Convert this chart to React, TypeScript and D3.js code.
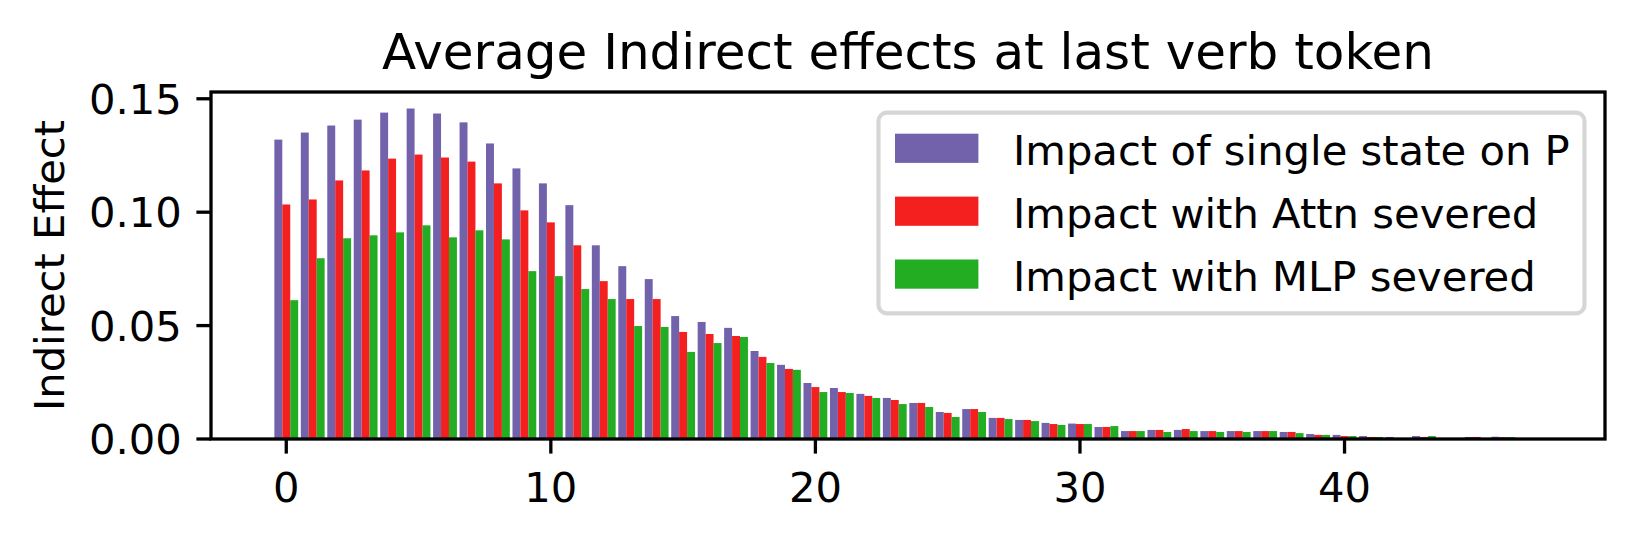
import React from "react";
import * as d3 from "d3";

const W = 1635;
const H = 540;
const FONT = "DejaVu Sans, Verdana, sans-serif";

// bar values, one per token position 0..47
const singleState = [
  0.1320, 0.1351, 0.1382, 0.1408, 0.1439, 0.1457, 0.1435, 0.1396, 0.1303, 0.1193,
  0.1127, 0.1031, 0.0854, 0.0762, 0.0705, 0.0542, 0.0516, 0.0490, 0.0388, 0.0327,
  0.0247, 0.0225, 0.0199, 0.0181, 0.0159, 0.0119, 0.0132, 0.0093, 0.0084, 0.0071,
  0.0068, 0.0053, 0.0035, 0.0040, 0.0040, 0.0035, 0.0035, 0.0035, 0.0031, 0.0022,
  0.0018, 0.0013, 0.0009, 0.0013, 0.0002, 0.0009, 0.0010, 0.0002,
];
const attnSevered = [
  0.1034, 0.1056, 0.1140, 0.1184, 0.1236, 0.1254, 0.1241, 0.1223, 0.1127, 0.1008,
  0.0955, 0.0854, 0.0696, 0.0617, 0.0617, 0.0472, 0.0463, 0.0454, 0.0362, 0.0309,
  0.0229, 0.0207, 0.0190, 0.0172, 0.0159, 0.0115, 0.0132, 0.0093, 0.0084, 0.0066,
  0.0066, 0.0053, 0.0035, 0.0040, 0.0044, 0.0035, 0.0035, 0.0035, 0.0031, 0.0018,
  0.0013, 0.0009, 0.0003, 0.0009, 0.0002, 0.0009, 0.0008, 0.0002,
];
const mlpSevered = [
  0.0612, 0.0797, 0.0885, 0.0898, 0.0911, 0.0942, 0.0889, 0.0920, 0.0880, 0.0740,
  0.0718, 0.0661, 0.0617, 0.0498, 0.0494, 0.0384, 0.0423, 0.0450, 0.0335, 0.0305,
  0.0207, 0.0203, 0.0181, 0.0154, 0.0141, 0.0097, 0.0119, 0.0088, 0.0079, 0.0062,
  0.0066, 0.0057, 0.0035, 0.0031, 0.0035, 0.0031, 0.0031, 0.0035, 0.0026, 0.0018,
  0.0013, 0.0009, 0.0003, 0.0013, 0.0002, 0.0004, 0.0008, 0.0001,
];

const seriesNames = [
  "Impact of single state on P",
  "Impact with Attn severed",
  "Impact with MLP severed",
];
const seriesColors = ["#7262ac", "#f42020", "#22ad22"];
const xTicks = [0, 10, 20, 30, 40];
const yTicks = [0, 0.05, 0.1, 0.15];

const plot = { left: 211, right: 1605, top: 92, bottom: 439 };
const BAR_W = 0.3;

export default function App() {
  const series = [singleState, attnSevered, mlpSevered];
  const n = singleState.length;

  // matplotlib style 5% margins around the bar extent
  const lo = -1.5 * BAR_W;
  const hi = n - 1 + 1.5 * BAR_W;
  const pad = (hi - lo) * 0.05;
  const x = d3.scaleLinear().domain([lo - pad, hi + pad]).range([plot.left, plot.right]);
  const yMax = (d3.max(series.flat()) ?? 0) * 1.05;
  const y = d3.scaleLinear().domain([0, yMax]).range([plot.bottom, plot.top]);
  const bw = x(BAR_W) - x(0);
  const fmt = d3.format(".2f");

  const tickLen = 14.6;
  const fs = 41.7;

  return (
    <div style={{ position: "absolute", left: 0, top: 0 }}>
      <svg width={W} height={H} style={{ display: "block", background: "#fff" }} fontFamily={FONT}>
        <rect width={W} height={H} fill="#fff" />

        <text x={(plot.left + plot.right) / 2} y={68.5} textAnchor="middle" fontSize={50}>
          Average Indirect effects at last verb token
        </text>

        {series.map((vals, s) => (
          <g key={s} fill={seriesColors[s]}>
            {vals.map((v, i) => (
              <rect
                key={i}
                x={x(i + (s - 1) * BAR_W - BAR_W / 2)}
                y={y(v)}
                width={bw}
                height={y(0) - y(v)}
              />
            ))}
          </g>
        ))}

        {/* legend */}
        <g>
          <rect x={878.5} y={112.7} width={706} height={200.6} rx={8.3}
            fill="#fff" fillOpacity={0.8} stroke="#cccccc" strokeOpacity={0.8} strokeWidth={4.2} />
          {seriesNames.map((name, s) => {
            const cy = 148.3 + s * 62.9;
            return (
              <g key={name}>
                <rect x={895} y={cy - 14.6} width={83.4} height={29.2} fill={seriesColors[s]} />
                <text x={1013} y={cy + 16.8} fontSize={fs}>{name}</text>
              </g>
            );
          })}
        </g>

        {/* axes frame */}
        <rect x={plot.left} y={plot.top} width={plot.right - plot.left} height={plot.bottom - plot.top}
          fill="none" stroke="#000" strokeWidth={3.3} />

        {yTicks.map((t) => (
          <g key={t}>
            <line x1={plot.left} x2={plot.left - tickLen} y1={y(t)} y2={y(t)} stroke="#000" strokeWidth={3.3} />
            <text x={plot.left - tickLen - 14.6} y={y(t) + 15.3} textAnchor="end" fontSize={fs}>
              {fmt(t)}
            </text>
          </g>
        ))}

        {xTicks.map((t) => (
          <g key={t}>
            <line x1={x(t)} x2={x(t)} y1={plot.bottom} y2={plot.bottom + tickLen} stroke="#000" strokeWidth={3.3} />
            <text x={x(t)} y={plot.bottom + 62.5} textAnchor="middle" fontSize={fs}>
              {t}
            </text>
          </g>
        ))}

        <text transform={`translate(63.5, ${(plot.top + plot.bottom) / 2}) rotate(-90)`}
          textAnchor="middle" fontSize={fs}>
          Indirect Effect
        </text>
      </svg>
    </div>
  );
}
